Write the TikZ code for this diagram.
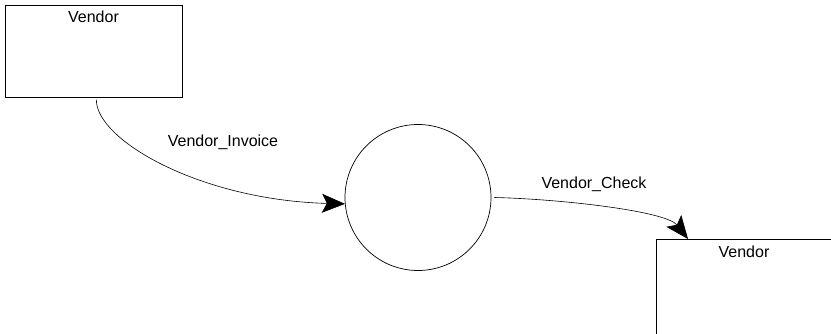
\documentclass[tikz,border=0pt]{standalone}
\usepackage{fontspec}
\setmainfont{Liberation Sans}
\usetikzlibrary{arrows.meta}
\tikzset{
  entity/.style={draw, line width=0.7pt, anchor=north west, inner sep=0pt},
  proc/.style={draw, circle, line width=0.7pt, inner sep=0pt, minimum size=146pt},
  lbl/.style={anchor=base, inner sep=0pt, font=\fontsize{16pt}{18pt}\selectfont},
  flow/.style={line width=0.6pt, -{Stealth[length=23pt,width=19pt,inset=5pt]}}
}
\begin{document}
\begin{tikzpicture}[x=1pt,y=1pt]
\useasboundingbox (0,0) rectangle (831,333);
\clip (0,0) rectangle (831,333);
\fill[white] (0,0) rectangle (831,333);
\node[entity, minimum width=177pt, minimum height=92pt] (b1) at (5,328) {};
\node[lbl] (t1) at (93.5,310) {Vendor};
\node[proc] (c) at (418,135.5) {};
\node[entity, minimum width=220pt, minimum height=140pt] (b2) at (656,94) {};
\node[lbl] (t2) at (744,76) {Vendor};
\node[lbl] (fi) at (223,187) {Vendor\_Invoice};
\node[lbl] (fc) at (594,145) {Vendor\_Check};
\draw[flow] ([xshift=2.5pt,yshift=-2pt]b1.south) .. controls (96,193) and (200,133) .. (c.185);
\draw[flow] ([xshift=3pt]c.0) .. controls (560,134) and (666,122) .. ([xshift=32pt]b2.north west);
\end{tikzpicture}
\end{document}
